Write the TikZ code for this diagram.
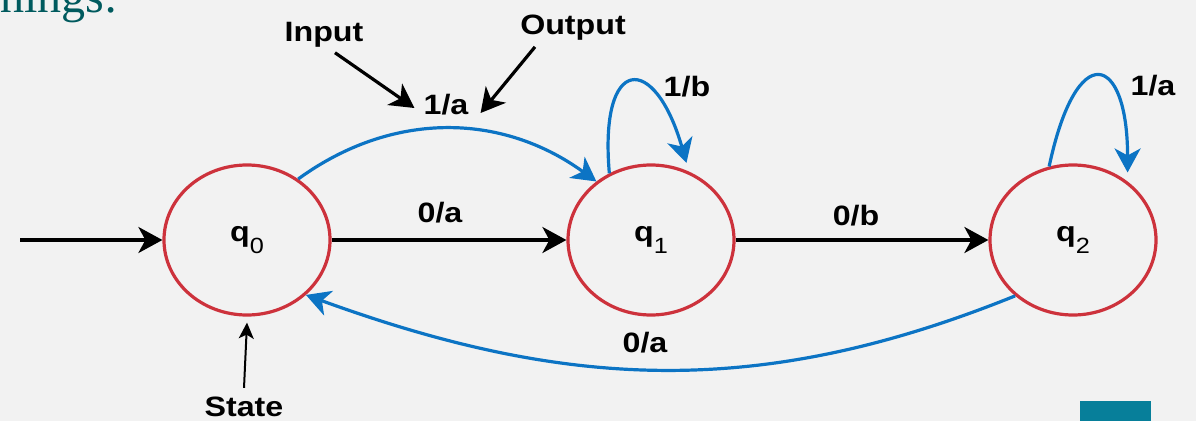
\documentclass[tikz,border=0pt]{standalone}
\usepackage{fontspec}
\usepackage{tikz}
\usetikzlibrary{shapes.geometric, arrows.meta, positioning}

\newfontfamily\lblfont[FakeStretch=1.15]{Liberation Sans}
\newfontfamily\headfont{Liberation Serif}

\definecolor{bggray}{RGB}{242,242,242}
\definecolor{stred}{RGB}{205,50,60}
\definecolor{arblue}{RGB}{12,116,196}
\definecolor{headteal}{RGB}{0,90,94}
\definecolor{boxteal}{RGB}{7,127,154}

% state name with a lowered, lighter index
\newcommand{\qsub}[1]{q\raisebox{-12pt}{\mdseries\fontsize{22}{22}\selectfont #1}}

\begin{document}
\begin{tikzpicture}[x=1pt, y=1pt,
    stnode/.style={draw=stred, line width=3.2pt, ellipse, minimum width=166pt, minimum height=150pt, inner sep=0pt, font=\lblfont\bfseries\fontsize{28}{30}\selectfont},
    lbl/.style={inner sep=2pt, font=\lblfont\bfseries\fontsize{28}{30}\selectfont},
    arrow/.style={draw, line width=3.2pt, -{Stealth[length=24pt, width=26pt, inset=7pt]}},
    barrow/.style={arrow, draw=arblue},
    tarrow/.style={draw, line width=2pt, -{Stealth[length=16pt, width=15pt, inset=4pt]}}
]
    \useasboundingbox (0,0) rectangle (1196,421);
    \fill[bggray] (0,0) rectangle (1196,421);
    \fill[boxteal] (1080,0) rectangle (1151,20);
    \node[anchor=base east, inner sep=0pt, text=headteal, font=\headfont\fontsize{48}{48}\selectfont] (heading) at (118,408) {hings:};

    % Nodes
    \node[stnode] (q0) at (247,181) {\qsub{0}};
    \node[stnode] (q1) at (651,181) {\qsub{1}};
    \node[stnode] (q2) at (1073,181) {\qsub{2}};
    \coordinate (init) at (20,181);

    \node[lbl] (l01) at (440,208) {0/a};
    \node[lbl] (l12) at (856,205) {0/b};
    \node[lbl] (l01top) at (446,316) {1/a};
    \node[lbl] (l11) at (687,334) {1/b};
    \node[lbl] (l22) at (1153,335) {1/a};
    \node[lbl] (l20) at (645,78) {0/a};
    \node[lbl] (input) at (324,386) {Input};
    \node[lbl] (output) at (573,393) {Output};
    \node[lbl] (state) at (244,14) {State};

    % Connections
    \draw[arrow] (init) -- (q0);
    \draw[arrow] (q0) -- (q1);
    \draw[arrow] (q1) -- (q2);
    \draw[barrow] (q0.50) to[out=36, in=144] (q1.133);
    \draw[barrow] (q2.224) to[out=202, in=-20] (q0.317);
    \draw[barrow, shorten >=9pt] (q1.122) .. controls +(95:120) and +(106:124) .. (q1.61);
    \draw[barrow, shorten >=9pt] (q2.108) .. controls +(78:132) and +(90:128) .. (q2.47);

    % Annotations
    \draw[arrow] ([xshift=11pt, yshift=-3pt]input.south) -- ([xshift=-7pt, yshift=-3pt]l01top.west);
    \draw[arrow] ([xshift=-38pt, yshift=-4pt]output.south) -- ([xshift=10pt, yshift=-8pt]l01top.east);
    \draw[tarrow] ([yshift=7pt]state.north) -- ([yshift=-6pt]q0.south);

\end{tikzpicture}
\end{document}
